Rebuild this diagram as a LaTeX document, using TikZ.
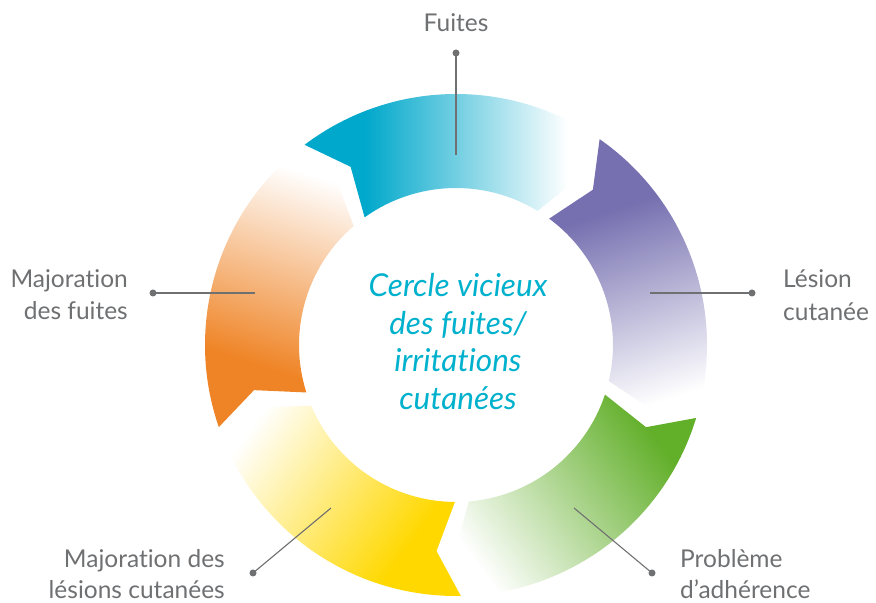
\documentclass[tikz,border=0pt]{standalone}
\usepackage{fontspec}
\setmainfont{Lato}[Ligatures=CommonOff]
\definecolor{segcyan}{HTML}{00A8CB}
\definecolor{segpurple}{HTML}{7670B0}
\definecolor{seggreen}{HTML}{62AF2A}
\definecolor{segyellow}{HTML}{FFD800}
\definecolor{segorange}{HTML}{EF8426}
\definecolor{titlecyan}{HTML}{00B1CD}
\definecolor{labelgray}{HTML}{6F7072}
\pgfdeclarehorizontalshading{shcyan}{100bp}{color(0bp)=(segcyan); color(36bp)=(segcyan); color(73bp)=(white); color(100bp)=(white)}
\pgfdeclarehorizontalshading{shpurple}{100bp}{color(0bp)=(segpurple); color(38bp)=(segpurple); color(74bp)=(white); color(100bp)=(white)}
\pgfdeclarehorizontalshading{shgreen}{100bp}{color(0bp)=(seggreen); color(33bp)=(seggreen); color(73bp)=(white); color(100bp)=(white)}
\pgfdeclarehorizontalshading{shyellow}{100bp}{color(0bp)=(segyellow); color(38bp)=(segyellow); color(74bp)=(white); color(100bp)=(white)}
\pgfdeclarehorizontalshading{shorange}{100bp}{color(0bp)=(segorange); color(38bp)=(segorange); color(74bp)=(white); color(100bp)=(white)}
\newcommand\ringseg[2]{%
  \begin{scope}[transform canvas={shift={(456,258)},rotate=#1}]
    \shade[shading=#2] (127.1:251bp) arc[start angle=127.1,end angle=60.7,radius=251bp]
      -- (53.7:207bp) -- (58.7:157bp)
      arc[start angle=58.7,end angle=125.6,radius=157bp]
      -- (120.6:207bp) -- cycle;
  \end{scope}}
\tikzset{
  lbl/.style={font=\fontsize{24.5bp}{29bp}\selectfont, text=labelgray, inner sep=0pt},
  ttl/.style={font=\fontsize{31.5bp}{36bp}\selectfont\itshape, text=titlecyan, inner sep=0pt, anchor=base},
  dotnode/.style={circle, fill=labelgray, inner sep=0pt, minimum size=7bp},
  conn/.style={draw=labelgray, line width=1.1bp}
}
\begin{document}
\begin{tikzpicture}[x=1bp,y=1bp]
\useasboundingbox[fill=white] (0,0) rectangle (876,603);
% ring segments
\ringseg{0}{shcyan}
\ringseg{-72}{shpurple}
\ringseg{-144}{shgreen}
\ringseg{-216}{shyellow}
\ringseg{-288}{shorange}
% centre title
\node[ttl] (t1) at (458,306) {Cercle vicieux};
\node[ttl] (t2) at (458,268.5) {des fuites/};
\node[ttl] (t3) at (458,231) {irritations};
\node[ttl] (t4) at (458,193.5) {cutanées};
% labels
\node[lbl, anchor=base] (fuites) at (456,571) {Fuites};
\node[lbl, anchor=base west] (les1) at (783,315) {Lésion};
\node[lbl, anchor=base west] (les2) at (783,282) {cutanée};
\node[lbl, anchor=base east] (mf1) at (128,315) {Majoration};
\node[lbl, anchor=base east] (mf2) at (128,283) {des fuites};
\node[lbl, anchor=base east] (ml1) at (225,35) {Majoration des};
\node[lbl, anchor=base east] (ml2) at (225,4) {lésions cutanées};
\node[lbl, anchor=base west] (pa1) at (680,35) {Problème};
\node[lbl, anchor=base west] (pa2) at (680,4) {d’adhérence};
% connectors
\node[dotnode] (dfu) at (456,550) {};
\node[dotnode] (dle) at (752,310) {};
\node[dotnode] (dmf) at (153,310) {};
\node[dotnode] (dml) at (253,30) {};
\node[dotnode] (dpa) at (652,30) {};
\coordinate (efu) at (456,448);
\coordinate (ele) at (650,310);
\coordinate (emf) at (255,310);
\coordinate (eml) at (331,95);
\coordinate (epa) at (574,95);
\draw[conn] (dfu.center) -- (efu);
\draw[conn] (dle.center) -- (ele);
\draw[conn] (dmf.center) -- (emf);
\draw[conn] (dml.center) -- (eml);
\draw[conn] (dpa.center) -- (epa);
\end{tikzpicture}
\end{document}
